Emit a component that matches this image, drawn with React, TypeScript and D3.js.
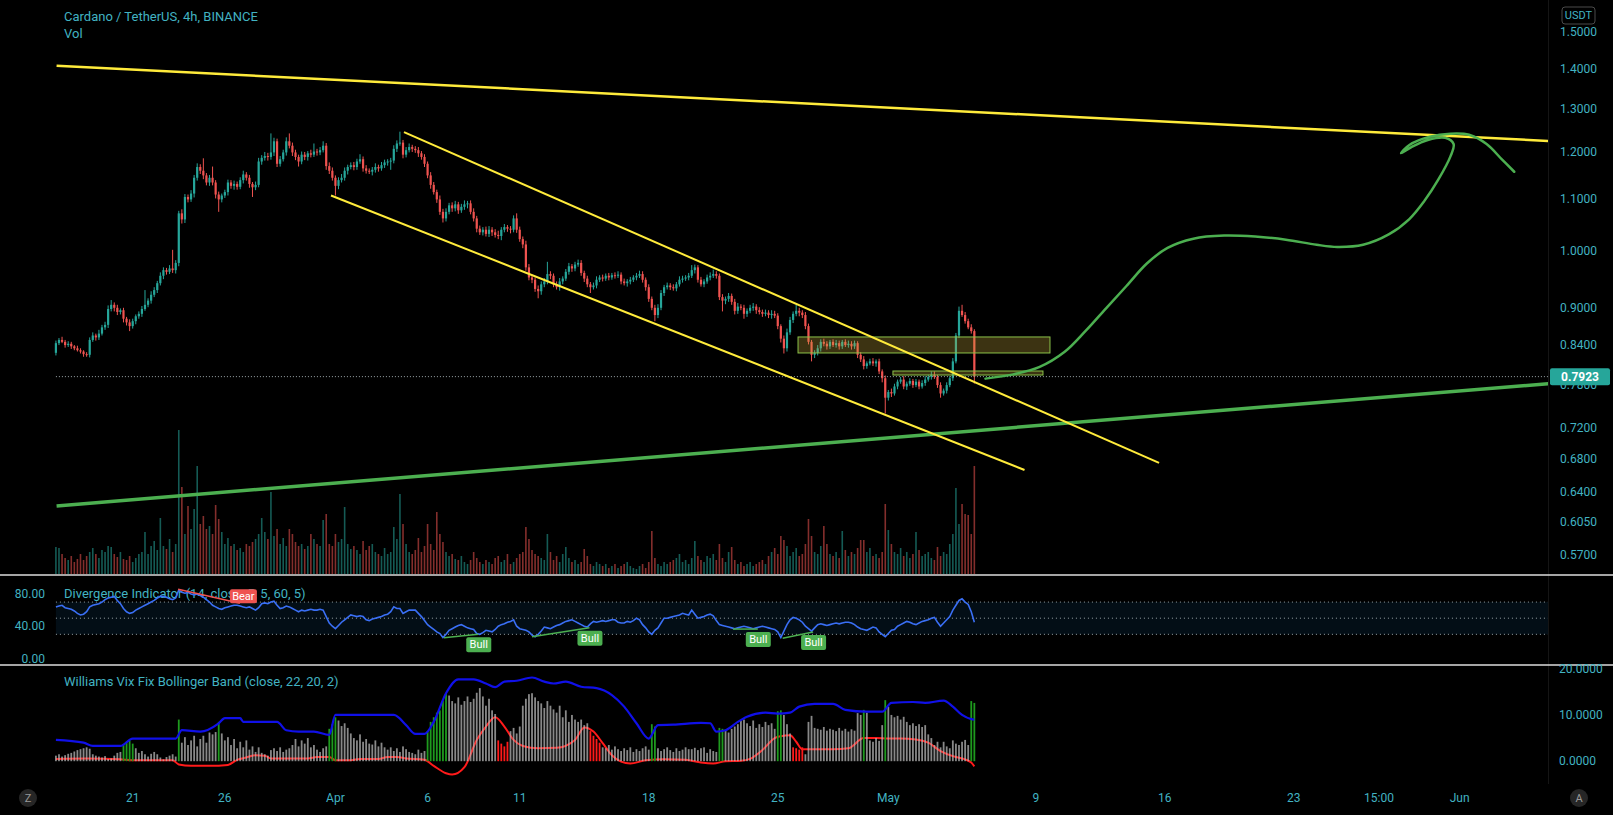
import React from 'react';
import * as d3 from 'd3';

// ---------- DATA ----------
const START = Date.UTC(2021, 2, 16, 20); // first 4h bar
const BAR_MS = 4 * 3600 * 1000;
const FIRST_OPEN = 0.828;

const closes = [
  0.843,0.848,0.845,0.840,0.842,0.838,0.835,0.832,0.830,0.826,
  0.825,0.848,0.855,0.852,0.858,0.868,0.872,0.898,0.905,0.900,
  0.893,0.896,0.882,0.876,0.870,0.878,0.886,0.890,0.898,0.905,
  0.912,0.922,0.930,0.942,0.955,0.965,0.962,0.968,0.965,0.978,
  1.072,1.060,1.105,1.100,1.112,1.145,1.168,1.160,1.150,1.135,
  1.145,1.135,1.110,1.100,1.108,1.115,1.135,1.128,1.132,1.126,
  1.140,1.152,1.145,1.132,1.125,1.130,1.180,1.188,1.192,1.190,
  1.200,1.225,1.175,1.185,1.200,1.225,1.215,1.200,1.190,1.180,
  1.195,1.190,1.198,1.195,1.202,1.200,1.205,1.215,1.170,1.160,
  1.145,1.128,1.140,1.145,1.160,1.168,1.172,1.168,1.180,1.185,
  1.165,1.160,1.158,1.162,1.168,1.165,1.172,1.178,1.180,1.182,
  1.208,1.220,1.222,1.195,1.205,1.212,1.208,1.205,1.198,1.190,
  1.175,1.150,1.130,1.115,1.100,1.075,1.062,1.075,1.088,1.082,
  1.090,1.078,1.085,1.090,1.092,1.075,1.062,1.042,1.035,1.040,
  1.032,1.040,1.035,1.030,1.028,1.040,1.045,1.042,1.040,1.062,
  1.040,1.022,1.012,0.970,0.952,0.948,0.932,0.928,0.940,0.945,
  0.958,0.955,0.940,0.935,0.945,0.950,0.962,0.972,0.968,0.975,
  0.978,0.960,0.950,0.940,0.935,0.938,0.948,0.952,0.950,0.955,
  0.952,0.956,0.955,0.957,0.945,0.942,0.945,0.948,0.952,0.955,
  0.958,0.948,0.935,0.915,0.900,0.888,0.900,0.925,0.935,0.938,
  0.935,0.933,0.940,0.948,0.950,0.952,0.955,0.965,0.970,0.948,
  0.940,0.945,0.952,0.955,0.958,0.955,0.918,0.912,0.915,0.920,
  0.910,0.895,0.902,0.900,0.890,0.895,0.900,0.902,0.896,0.893,
  0.890,0.892,0.888,0.890,0.887,0.870,0.850,0.835,0.860,0.880,
  0.890,0.895,0.892,0.888,0.870,0.845,0.825,0.828,0.835,0.845,
  0.842,0.838,0.845,0.840,0.843,0.838,0.845,0.840,0.842,0.838,
  0.843,0.825,0.818,0.808,0.812,0.815,0.812,0.815,0.800,0.790,
  0.762,0.770,0.768,0.778,0.785,0.788,0.778,0.782,0.786,0.780,
  0.785,0.778,0.783,0.788,0.792,0.795,0.792,0.780,0.768,0.772,
  0.780,0.790,0.815,0.855,0.895,0.888,0.878,0.868,0.862,0.7923,
];

// wick extents beyond the body, in thousandths of USDT
const wickUp = [
  4,3,5,3,4,3,2,4,3,2, 3,4,5,3,6,4,5,6,8,4, 5,3,4,3,5,4,3,4,5,25,
  4,6,5,4,6,5,4,6,34,5, 5,8,6,5,7,6,8,6,27,5, 6,24,5,6,4,5,6,5,7,5,
  6,8,5,6,4,7,8,6,9,7, 43,8,6,7,6,9,18,7,6,5, 7,6,5,8,18,6,7,10,6,8,
  7,5,6,8,7,5,6,7,6,11, 6,7,5,6,8,5,7,6,5,6, 8,7,25,6,7,8,5,6,7,5,
  6,5,7,6,5,8,6,7,5,6, 7,5,6,8,5,6,7,5,6,5, 6,7,5,6,8,5,6,4,5,6,
  10,6,5,7,6,5,4,6,5,6, 22,5,4,5,6,4,5,6,4,5, 6,5,4,5,4,5,6,4,5,4,
  5,4,5,6,4,5,4,5,4,5, 6,5,4,5,4,5,6,5,4,5, 4,5,4,6,5,4,5,9,5,4,
  5,4,5,6,8,5,4,5,4,5, 4,5,6,4,5,4,5,6,4,5, 4,5,4,6,5,4,3,5,6,5,
  4,10,5,4,5,4,3,4,5,4, 5,4,3,4,5,4,3,4,5,4, 4,3,4,5,3,4,5,3,4,3,
  4,3,5,4,3,4,5,3,4,3, 4,3,4,5,3,5,5,3,4,3, 4,3,5,4,7,10,5,4,5,3,
];
const wickDn = [
  4,3,2,4,3,4,3,2,3,4, 3,4,3,5,4,3,4,5,4,6, 5,4,6,5,8,4,5,4,5,3,
  4,5,4,5,4,6,5,4,5,6, 6,8,7,6,5,8,6,7,8,6, 7,6,8,25,6,5,7,6,8,6,
  5,7,6,8,20,6,5,7,6,8, 6,8,7,6,5,7,6,8,7,11, 6,7,8,6,5,7,6,5,8,7,
  6,20,7,5,6,8,5,7,6,5, 7,6,5,8,6,7,5,6,7,18, 6,7,5,8,6,5,7,6,8,6,
  7,6,8,5,7,6,8,6,5,7, 6,7,5,6,8,5,6,7,5,6, 5,6,7,5,6,8,5,6,7,5,
  6,5,7,6,5,6,5,12,6,5, 5,6,5,4,6,5,4,5,6,5, 4,5,6,5,10,4,5,4,5,4,
  5,4,5,4,5,4,6,5,4,5, 4,5,6,5,4,10,5,4,5,4, 5,4,5,4,5,4,5,4,6,5,
  4,5,4,5,4,5,5,18,6,5, 5,6,5,4,8,5,4,5,6,4, 5,4,5,6,4,5,6,8,5,4,
  5,4,6,5,5,4,10,5,4,5, 4,5,4,3,4,5,4,3,4,5, 4,5,4,5,4,3,4,5,4,6,
  22,4,5,3,4,3,4,5,3,4, 3,4,3,4,3,4,3,4,6,3, 4,3,4,3,4,3,4,3,4,10,
];

// volume, millions of ADA
const volumes = [
  27,26,20,16,14,18,12,15,20,14, 18,22,26,20,16,24,22,28,27,20,
  17,22,15,14,18,12,16,20,22,42, 20,28,33,24,56,28,25,35,22,30,
  144,87,40,68,45,65,108,50,58,45, 48,40,69,55,42,30,36,28,30,24,
  26,22,30,28,32,35,40,56,42,35, 82,38,45,30,36,28,45,40,32,28,
  30,25,28,40,35,30,28,54,60,30, 28,40,32,35,67,30,25,28,24,20,
  33,24,28,30,22,20,18,26,20,22, 47,35,80,50,30,22,20,24,36,22,
  28,50,30,24,62,40,32,22,18,20, 15,14,18,12,10,14,22,16,12,10,
  14,12,10,16,18,12,14,20,10,12, 16,20,22,47,35,24,20,18,16,14,
  40,22,14,18,12,20,27,16,12,14, 10,12,25,18,10,8,12,10,8,10,
  6,8,10,6,8,10,12,8,6,5, 8,10,6,12,43,16,10,8,12,10,
  12,14,16,20,12,14,10,16,33,18, 14,12,18,16,20,14,30,16,12,22,
  27,14,10,12,8,10,12,8,10,12, 14,10,18,22,26,20,38,34,28,18,
  22,26,18,20,30,55,38,22,20,28, 48,30,20,18,22,16,43,24,18,22,
  20,26,34,34,22,26,18,20,16,22, 70,44,30,22,20,26,18,22,16,20,
  42,24,18,20,22,16,14,27,18,22, 20,30,40,86,50,70,60,59,40,108,
];

// Divergence indicator (RSI 14) per bar
const rsi = [
  64,65,66,63,62,61,59,56,54,55, 58,64,66,67,68,70,73,75,76,77,
  72,68,62,58,56,57,60,62,64,66, 68,70,72,75,77,77,76,74,73,75,
  85,82,81,82,80,79,80,78,76,73, 70,66,64,62,61,63,64,65,66,66,
  65,64,63,64,62,60,63,68,69,68, 70,71,66,62,63,65,64,62,60,58,
  60,59,60,61,60,60,61,60,52,44, 40,37,41,45,48,51,54,53,52,53,
  52,48,47,49,50,51,52,54,55,58, 64,62,62,56,58,60,60,60,56,52,
  47,42,39,36,33,31,26,30,35,37, 39,41,42,40,38,37,36,31,30,32,
  35,34,33,36,40,42,43,45,46,48, 40,37,36,35,33,29,27,30,34,39,
  38,37,39,41,42,44,46,47,48,46, 44,42,40,39,43,46,45,46,47,46,
  47,48,48,45,44,44,46,45,47,50, 48,42,38,33,30,35,38,44,50,50,
  51,52,53,54,56,55,54,60,55,50, 51,52,54,55,53,47,42,41,40,39,
  38,37,38,39,40,39,38,37,38,39, 40,39,38,37,36,33,26,34,42,48,
  51,50,48,45,40,37,34,38,42,43, 42,41,42,43,44,43,44,45,45,44,
  42,39,37,36,35,37,39,38,33,30, 27,31,35,36,40,42,44,46,45,43,
  42,44,46,47,48,50,51,45,40,44, 48,52,60,66,72,74,70,67,58,45,
];
const rsiLevels = [70, 50, 30];
const bearLines = [[39.8, 86, 59.9, 68.5]];
const bullLines = [[126.3, 25.8, 137.5, 30], [155, 27, 173.7, 38.2], [220.4, 36.5, 228.5, 36.5], [236.6, 25, 246.5, 33]];

// Williams Vix Fix per bar
const vix = [
  1.2,1.5,1.0,1.3,1.6,1.8,2.1,2.4,2.6,2.8, 3.0,2.7,1.5,1.2,1.0,0.8,1.1,0.5,0.6,1.2,
  1.8,2.0,3.5,4.2,4.5,3.8,2.8,1.8,2.2,1.5, 1.0,1.6,2.0,1.5,0.8,0.4,0.9,1.2,1.5,1.0,
  9.0,4.0,5.2,3.5,4.5,5.5,3.2,4.8,5.5,4.0, 6.2,5.8,6.3,8.5,6.0,4.5,5.2,3.5,4.8,2.8,
  4.2,3.0,4.5,2.5,3.2,2.0,3.0,1.8,1.5,1.2, 2.4,2.8,2.2,3.0,2.0,2.5,2.8,3.5,4.8,3.2,
  4.5,3.8,5.0,3.0,3.5,2.5,2.0,2.8,3.2,7.0, 8.0,9.5,8.8,7.6,8.2,7.2,6.0,5.0,4.5,5.8,
  4.2,4.8,3.8,3.6,4.5,3.2,4.0,3.0,2.5,3.0, 2.2,2.8,2.0,3.2,2.6,2.0,1.8,1.5,2.5,1.8,
  2.2,6.5,8.5,9.5,10.5,11.0,13.0,14.5,14.2,13.0, 12.5,13.8,12.2,13.0,14.0,12.8,13.5,14.8,15.8,14.0,
  12.0,13.5,11.0,10.2,4.5,3.8,3.2,4.2,6.5,7.2, 6.0,7.5,12.0,13.5,14.5,14.7,13.8,13.0,12.5,11.5,
  13.0,12.0,11.2,10.5,12.0,9.5,11.0,8.5,10.0,9.0, 8.5,9.0,7.8,8.2,6.5,5.5,4.8,4.0,3.0,2.8,
  3.5,2.5,3.2,2.6,2.2,2.8,2.4,3.0,2.0,2.6, 2.2,2.8,3.2,2.5,8.0,7.5,2.8,2.2,2.6,3.0,
  2.4,2.0,2.8,2.2,2.5,3.0,2.6,2.6,2.9,2.4, 2.8,3.0,1.8,2.6,2.2,2.0,7.2,7.0,6.8,6.2,
  7.0,7.5,8.0,8.8,9.0,8.2,7.6,8.8,7.2,8.0, 7.4,8.5,7.8,8.2,7.0,10.8,11.0,10.0,8.0,6.0,
  3.0,2.8,2.5,3.0,1.5,8.5,9.8,7.2,7.0,6.8, 7.4,6.6,7.0,6.8,6.5,7.2,6.6,7.0,6.4,6.9,
  6.6,10.4,10.0,11.1,10.5,4.5,4.2,5.0,4.4,7.8, 13.2,11.8,10.0,9.5,9.8,9.0,9.6,8.5,7.8,8.2,
  7.6,8.0,7.4,7.8,5.8,5.0,3.5,4.2,3.0,4.2, 3.2,2.8,4.5,3.8,3.5,4.2,4.6,3.5,13.0,12.6,
];
const vixGreen = [22,23,24,25,40,53,89,90,91,121,122,123,124,125,126,127,194,195,216,217,235,236,263,270,298,299];
const vixRed = [144,145,146,147,174,175,176,177,240,241,242,243];
// [bar index, value]
const vixUpper = [
  [0,4.6],[9,4.0],[12,3.3],[21,3.3],[25,4.9],[39,4.9],[41,6.7],[47,6.4],[53,8.2],[55,9.3],[60,9.3],[61,8.5],
  [72,8.5],[75,6.7],[79,6.4],[84,6.4],[89,5.7],[91,10],[110,10],[114,7.8],[117,5.9],[120,5.9],[123,8.5],
  [127,14.7],[131,17.7],[136,17.7],[140,16.8],[143,16],[146,17.2],[150,17.4],[155,18.1],[159,17.2],[162,16.8],
  [166,17.2],[171,16.1],[176,15.8],[181,14.3],[185,11.8],[189,8.2],[193,4.9],[196,7.8],[201,7.9],[210,8.3],
  [213,8.2],[215,6.4],[218,6.7],[222,8.5],[225,9.6],[231,10.5],[235,10.3],[239,10.5],[242,11.8],[247,12.4],
  [253,12.4],[257,11.1],[264,10.7],[269,10.7],[272,12.6],[279,12.8],[283,12.6],[289,13.1],[292,11.8],
  [295,10.0],[298,9.1],[299,9.0],
];
const vixLower = [
  [0,0.5],[10,0.6],[21,0.4],[25,0.2],[38,0.2],[40,-0.7],[44,-1.0],[50,-1.0],[56,-0.8],[59,0.3],[62,0.8],
  [65,1.3],[68,1.2],[70,0.6],[82,0.6],[85,0.9],[89,0.9],[91,0.2],[96,0.2],[99,0.5],[105,0.5],[108,0.9],
  [111,0.9],[114,0.6],[120,0.3],[123,-1.0],[127,-2.6],[129,-2.9],[133,-1.3],[137,4.6],[140,7.5],[143,9.5],
  [146,7.5],[149,4.6],[152,3.3],[157,2.8],[163,2.9],[169,4.6],[172,7.3],[175,6.4],[178,3.9],[181,1.3],
  [184,-0.1],[187,-0.5],[192,0.2],[198,0.4],[205,0.3],[210,-0.3],[214,-0.5],[218,0],[223,0.1],[226,0.5],
  [230,2.4],[234,5.0],[236,5.4],[239,5.6],[241,4.2],[243,2.6],[246,2.6],[253,2.6],[258,2.8],[263,5.0],
  [267,5.0],[271,4.9],[275,4.9],[280,4.7],[284,4.0],[288,2.2],[292,1.1],[296,0.4],[298,-0.3],[299,-1.1],
];

// axis ticks
const priceTicks = [1.5, 1.4, 1.3, 1.2, 1.1, 1.0, 0.9, 0.84, 0.78, 0.72, 0.68, 0.64, 0.605, 0.57];
const rsiTicks = [80, 40, 0];
const vixTicks = [20, 10, 0];
const timeTickDates = ['2021-03-21', '2021-03-26', '2021-04-01', '2021-04-06', '2021-04-11', '2021-04-18', '2021-04-25', '2021-05-01', '2021-05-09', '2021-05-16', '2021-05-23', '2021-05-27T15:00:00Z', '2021-06-01'];
const timeTickLabels = ['21', '26', 'Apr', '6', '11', '18', '25', 'May', '9', '16', '23', '15:00', 'Jun'];
const LAST_PRICE = 0.7923;

// drawings: [days from 21 Mar, price]
const topLine = [[-4.13, 1.409], [76.8, 1.2257]];
const channelUpper = [[14.72, 1.246], [55.69, 0.6754]];
const channelLower = [[10.76, 1.108], [48.39, 0.6665]];
const supportLine = [[-4.13, 0.6236], [76.8, 0.782]];
const zones = [[36.10, 49.77, 0.8527, 0.8278], [41.25, 49.39, 0.8006, 0.7947]];
const projection = [
  [46.27,0.7894],[47.78,0.7956],[49.18,0.8063],[50.57,0.8296],[51.69,0.8618],[52.80,0.8987],[53.92,0.9371],
  [55.04,0.9773],[56.15,1.0056],[57.55,1.0229],[59.22,1.0287],[60.90,1.0268],[62.57,1.0209],[64.24,1.0114],
  [65.36,1.0074],[66.76,1.0114],[68.15,1.0309],[69.27,1.0607],[70.10,1.0976],[70.83,1.1403],[71.50,1.1912],
  [71.67,1.2188],[71.22,1.2329],[70.27,1.2281],[69.38,1.2119],[68.82,1.1981],[69.27,1.2166],[70.38,1.2352],
  [71.50,1.2423],[72.51,1.2399],[73.46,1.2188],[74.29,1.1846],[74.96,1.1578],
];

// ---------- CHART ----------
const FONT = "Roboto, 'Noto Sans', 'DejaVu Sans', sans-serif";
const TEXT = '#42b3c2';
const UP = '#26a69a';
const DOWN = '#ef5350';
const YELLOW = '#ffeb3b';
const GREEN = '#4caf50';

export default function App() {
  const W = 1613, H = 815;
  const PR = 1548; // right edge of panes
  const day0 = Date.UTC(2021, 2, 21);
  const x = d3.scaleUtc().domain([new Date(day0), new Date(Date.UTC(2021, 4, 23))]).range([132.7, 1293.8]);
  const xb = (i: number) => x(new Date(START + i * BAR_MS));
  const xd = (d: number) => x(new Date(day0 + d * 86400000));
  const y = d3.scaleLog().domain([1.5, 0.57]).range([31.9, 554.5]);
  const yv = d3.scaleLinear().domain([0, 150]).range([574, 424]);
  const yr = d3.scaleLinear().domain([0, 80]).range([658.5, 594]);
  const yx = d3.scaleLinear().domain([0, 20]).range([761.2, 668.7]);
  const fmt4 = d3.format('.4f');
  const fmt2 = d3.format('.2f');

  const candles = closes.map((c, i) => {
    const o = i === 0 ? FIRST_OPEN : closes[i - 1];
    return { i, o, c, hi: Math.max(o, c) + wickUp[i] / 1000, lo: Math.min(o, c) - wickDn[i] / 1000, up: c >= o };
  });

  const priceLine = d3.line<number[]>().x(d => xd(d[0])).y(d => y(d[1]));
  const projLine = d3.line<number[]>().x(d => xd(d[0])).y(d => y(d[1])).curve(d3.curveCatmullRom.alpha(0.5));
  const rsiPath = d3.line<number>().x((_, i) => xb(i)).y(v => yr(v))(rsi) || '';
  const bandLine = d3.line<number[]>().x(d => xb(d[0])).y(d => yx(d[1])).curve(d3.curveMonotoneX);
  const gSet = new Set(vixGreen), rSet = new Set(vixRed);
  const x0 = xb(0);

  return (
    <div style={{ position: 'absolute', left: 0, top: 0, width: W, height: H, background: '#000' }}>
      <svg width={W} height={H} style={{ display: 'block', background: '#000', fontFamily: FONT }}>
        <defs>
          <clipPath id="mainClip"><rect x={0} y={0} width={PR} height={574} /></clipPath>
          <clipPath id="rsiClip"><rect x={0} y={576} width={PR} height={88} /></clipPath>
          <clipPath id="vixClip"><rect x={0} y={666} width={PR} height={117} /></clipPath>
        </defs>
        <rect x={0} y={0} width={W} height={H} fill="#000" />
        <line x1={PR + 0.5} x2={PR + 0.5} y1={0} y2={784} stroke="#151515" />

        {/* ---------- MAIN PANE ---------- */}
        <g clipPath="url(#mainClip)">
          {volumes.map((v, i) => (
            <rect key={'v' + i} x={xb(i) - 0.8} width={1.6} y={yv(v)} height={yv(0) - yv(v)}
              fill={candles[i].up ? UP : DOWN} opacity={0.55} />
          ))}
          {candles.map(d => {
            const cx = xb(d.i);
            const top = y(Math.max(d.o, d.c));
            const bot = y(Math.min(d.o, d.c));
            const col = d.up ? UP : DOWN;
            return (
              <g key={'c' + d.i}>
                <line x1={cx} x2={cx} y1={y(d.hi)} y2={y(d.lo)} stroke={col} strokeWidth={1} />
                <rect x={cx - 1.1} width={2.2} y={top} height={Math.max(1, bot - top)} fill={col} />
              </g>
            );
          })}
          {zones.map((z, k) => (
            <rect key={'z' + k} x={xd(z[0])} width={xd(z[1]) - xd(z[0])} y={y(z[2])} height={y(z[3]) - y(z[2])}
              fill="rgba(200,170,60,0.3)" stroke="#8bc34a" strokeWidth={1} />
          ))}
          <line x1={x0} x2={PR} y1={y(LAST_PRICE)} y2={y(LAST_PRICE)} stroke="#9aa4a8" strokeWidth={1} strokeDasharray="1 2" />
          <path d={priceLine(supportLine) || ''} stroke={GREEN} strokeWidth={3.5} fill="none" />
          <path d={priceLine(topLine) || ''} stroke={YELLOW} strokeWidth={2.5} fill="none" />
          <path d={priceLine(channelUpper) || ''} stroke={YELLOW} strokeWidth={2} fill="none" />
          <path d={priceLine(channelLower) || ''} stroke={YELLOW} strokeWidth={2} fill="none" />
          <path d={projLine(projection) || ''} stroke={GREEN} strokeWidth={2.5} fill="none" strokeLinecap="round" strokeLinejoin="round" />
        </g>
        <text x={64} y={16} fill={TEXT} fontSize={13} dominantBaseline="central">Cardano / TetherUS, 4h, BINANCE</text>
        <text x={64} y={33} fill={TEXT} fontSize={13} dominantBaseline="central">Vol</text>

        {/* price axis */}
        <rect x={1562} y={7} width={33} height={17} rx={3} fill="#000" stroke="#4a4a4a" />
        <text x={1578.5} y={15.5} fill={TEXT} fontSize={11} textAnchor="middle" dominantBaseline="central">USDT</text>
        {priceTicks.map(p => (
          <text key={'pt' + p} x={1560} y={y(p)} fill={TEXT} fontSize={12} dominantBaseline="central">{fmt4(p)}</text>
        ))}
        <rect x={1550} y={y(LAST_PRICE) - 8.5} width={60} height={17} rx={2} fill={UP} />
        <text x={1580} y={y(LAST_PRICE)} fill="#fff" fontSize={12} fontWeight="bold" textAnchor="middle" dominantBaseline="central">{fmt4(LAST_PRICE)}</text>

        {/* separators */}
        <line x1={0} x2={W} y1={575} y2={575} stroke="#dcdcdc" strokeWidth={1.5} />
        <line x1={0} x2={W} y1={665} y2={665} stroke="#dcdcdc" strokeWidth={1.5} />

        {/* ---------- DIVERGENCE PANE ---------- */}
        <g clipPath="url(#rsiClip)">
          <rect x={x0} width={PR - x0} y={yr(70)} height={yr(30) - yr(70)} fill="rgba(33,150,243,0.09)" />
          {rsiLevels.map(l => (
            <line key={'rl' + l} x1={x0} x2={PR} y1={yr(l)} y2={yr(l)} stroke="#9aa4a8" strokeWidth={1} strokeDasharray="1 3" />
          ))}
        </g>
        <text x={64} y={593} fill={TEXT} fontSize={13} dominantBaseline="central">Divergence Indicator (14, close, 5, 5, 60, 5)</text>
        <g clipPath="url(#rsiClip)">
          <path d={rsiPath} stroke="#3a6ff5" strokeWidth={1.6} fill="none" />
          {bearLines.map((b, k) => (
            <g key={'bear' + k}>
              <line x1={xb(b[0])} y1={yr(b[1])} x2={xb(b[2])} y2={yr(b[3])} stroke="#ef5350" strokeWidth={1.5} />
              <rect x={xb(b[2]) - 10} y={yr(b[3]) - 14} width={27} height={14} rx={2} fill="#ef5350" />
              <text x={xb(b[2]) + 3.5} y={yr(b[3]) - 6.5} fill="#fff" fontSize={11} textAnchor="middle" dominantBaseline="central">Bear</text>
            </g>
          ))}
          {bullLines.map((b, k) => (
            <g key={'bull' + k}>
              <line x1={xb(b[0])} y1={yr(b[1])} x2={xb(b[2])} y2={yr(b[3])} stroke={GREEN} strokeWidth={1.5} />
              <rect x={xb(b[2]) - 12} y={yr(b[3]) + 3} width={25} height={15} rx={2} fill={GREEN} />
              <text x={xb(b[2]) + 0.5} y={yr(b[3]) + 10.5} fill="#fff" fontSize={11} textAnchor="middle" dominantBaseline="central">Bull</text>
            </g>
          ))}
        </g>
        {rsiTicks.map(t => (
          <text key={'rt' + t} x={45} y={yr(t)} fill={TEXT} fontSize={12} textAnchor="end" dominantBaseline="central">{fmt2(t)}</text>
        ))}

        {/* ---------- VIX FIX PANE ---------- */}
        <g clipPath="url(#vixClip)">
          <path d={bandLine(vixLower) || ''} stroke="#ff1a1a" strokeWidth={2} fill="none" />
          {vix.map((v, i) => {
            const g = gSet.has(i), r = rSet.has(i);
            return (
              <rect key={'x' + i} x={xb(i) - 0.9} width={1.8} y={yx(v)} height={yx(0) - yx(v)}
                fill={g ? '#1e9a1e' : r ? '#ff1a1a' : '#bdbdbd'} opacity={g || r ? 1 : 0.72} />
            );
          })}
          <path d={bandLine(vixUpper) || ''} stroke="#1010e8" strokeWidth={2.2} fill="none" />
        </g>
        <text x={64} y={681} fill={TEXT} fontSize={13} dominantBaseline="central">Williams Vix Fix Bollinger Band (close, 22, 20, 2)</text>
        {vixTicks.map(t => (
          <text key={'vt' + t} x={1559} y={yx(t)} fill={TEXT} fontSize={12} dominantBaseline="central">{fmt4(t)}</text>
        ))}

        {/* ---------- TIME AXIS ---------- */}
        {timeTickDates.map((d, k) => {
          const iso = d.length === 10 ? d + 'T00:00:00Z' : d;
          return (
            <text key={'tt' + k} x={x(new Date(iso))} y={798} fill={TEXT} fontSize={12} textAnchor="middle" dominantBaseline="central">{timeTickLabels[k]}</text>
          );
        })}
        <circle cx={28} cy={798} r={9} fill="#262626" />
        <text x={28} y={798} fill="#9a9a9a" fontSize={11} textAnchor="middle" dominantBaseline="central">Z</text>
        <circle cx={1579} cy={798} r={9} fill="#262626" />
        <text x={1579} y={798} fill="#9a9a9a" fontSize={11} textAnchor="middle" dominantBaseline="central">A</text>
      </svg>
    </div>
  );
}
